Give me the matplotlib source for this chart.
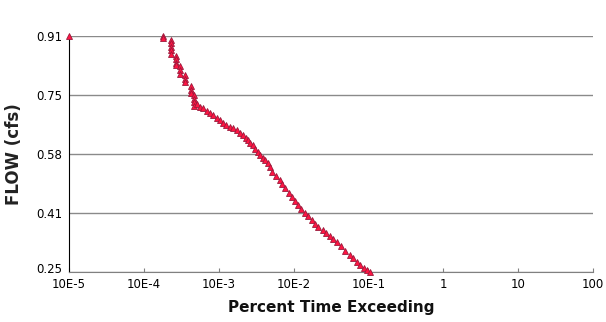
import numpy as np
import matplotlib.pyplot as plt
import matplotlib.transforms as mtransforms

# flow duration data (percent time exceeding, flow in cfs)
pct_exceed = [1.0e-5,
              1.80e-4, 1.82e-4,
              2.30e-4, 2.30e-4, 2.30e-4, 2.30e-4, 2.30e-4,
              2.69e-4, 2.69e-4, 2.69e-4, 2.69e-4,
              3.03e-4, 3.03e-4, 3.03e-4,
              3.54e-4, 3.54e-4, 3.54e-4,
              4.26e-4, 4.26e-4, 4.26e-4,
              4.67e-4, 4.67e-4, 4.67e-4, 4.67e-4,
              5.1e-4, 5.6e-4, 6.15e-4, 6.9e-4, 7.6e-4, 8.5e-4, 9.5e-4,
              1.05e-3, 1.14e-3, 1.27e-3, 1.41e-3, 1.55e-3, 1.75e-3, 1.95e-3,
              2.1e-3, 2.3e-3, 2.45e-3, 2.65e-3, 2.86e-3, 3.05e-3, 3.33e-3,
              3.55e-3, 3.9e-3, 4.2e-3, 4.54e-3, 4.85e-3, 5.13e-3, 5.8e-3,
              6.5e-3, 7.0e-3, 7.65e-3, 8.6e-3, 9.5e-3, 1.05e-2, 1.14e-2,
              1.27e-2, 1.40e-2, 1.55e-2, 1.75e-2, 1.95e-2, 2.15e-2, 2.46e-2,
              2.75e-2, 3.05e-2, 3.4e-2, 3.78e-2, 4.3e-2, 4.9e-2, 5.65e-2,
              6.3e-2, 7.0e-2, 7.7e-2, 8.6e-2, 9.5e-2, 1.04e-1]
flow_cfs = [0.91,
            0.91, 0.905,
            0.90, 0.89, 0.88, 0.87, 0.86,
            0.855, 0.845, 0.835, 0.83,
            0.825, 0.815, 0.805,
            0.80, 0.79, 0.78,
            0.77, 0.76, 0.75,
            0.745, 0.735, 0.725, 0.715,
            0.72, 0.712, 0.709, 0.70, 0.695, 0.688, 0.681,
            0.676, 0.667, 0.662, 0.656, 0.652, 0.647, 0.640,
            0.633, 0.626, 0.619, 0.612, 0.605, 0.595, 0.586,
            0.577, 0.569, 0.562, 0.555, 0.543, 0.530, 0.518,
            0.507, 0.496, 0.485, 0.472, 0.461, 0.449, 0.437,
            0.427, 0.416, 0.406, 0.395, 0.385, 0.376, 0.367,
            0.359, 0.350, 0.342, 0.334, 0.322, 0.310, 0.298,
            0.288, 0.279, 0.270, 0.262, 0.255, 0.25]

x_ticks = [1e-5, 1e-4, 1e-3, 1e-2, 1e-1, 1, 10, 100]
x_tick_labels = ['10E-5', '10E-4', '10E-3', '10E-2', '10E-1', '1', '10', '100']
y_ticks = [0.25, 0.415, 0.58, 0.745, 0.91]
y_tick_labels = ['0.25', '0.41', '0.58', '0.75', '0.91']

fig = plt.figure(figsize=(6.06, 3.22), dpi=100)
ax = fig.add_axes([0.1139, 0.1553, 0.8646, 0.7329])

ax.set_xscale('log')
ax.set_xlim(1e-5, 100)
ax.set_ylim(0.25, 0.91)

# horizontal grid lines
for yv in y_ticks:
    ax.axhline(yv, color='#8a8a8a', linewidth=1.0, zorder=1)

ax.plot(pct_exceed, flow_cfs, linestyle='none', marker='^', markersize=5,
        markerfacecolor='#ff1442', markeredgecolor='#9a1a3c', markeredgewidth=0.6,
        clip_on=False, zorder=3)

ax.set_xticks(x_ticks)
ax.set_xticklabels(x_tick_labels, fontsize=8.5)
ax.xaxis.set_minor_locator(plt.NullLocator())
ax.set_yticks(y_ticks)
ax.set_yticklabels(y_tick_labels, fontsize=8.5)
ax.tick_params(axis='x', direction='in', length=3, color='#808080', pad=4)
ax.tick_params(axis='y', length=0, pad=5)

# lift the bottom y label a little so it clears the 10E-5 label
lbl = ax.get_yticklabels()[0]
lbl.set_transform(lbl.get_transform() + mtransforms.ScaledTranslation(0, 3 / 72, fig.dpi_scale_trans))

ax.spines['top'].set_visible(False)
ax.spines['right'].set_visible(False)
ax.spines['bottom'].set_color('#808080')
ax.spines['left'].set_color('black')

ax.set_xlabel('Percent Time Exceeding', fontsize=11, fontweight='bold', color='#111111', labelpad=7)
ax.set_ylabel('FLOW (cfs)', fontsize=12, fontweight='bold', color='#222222', labelpad=9)

fig.savefig('out.png', dpi=100)
